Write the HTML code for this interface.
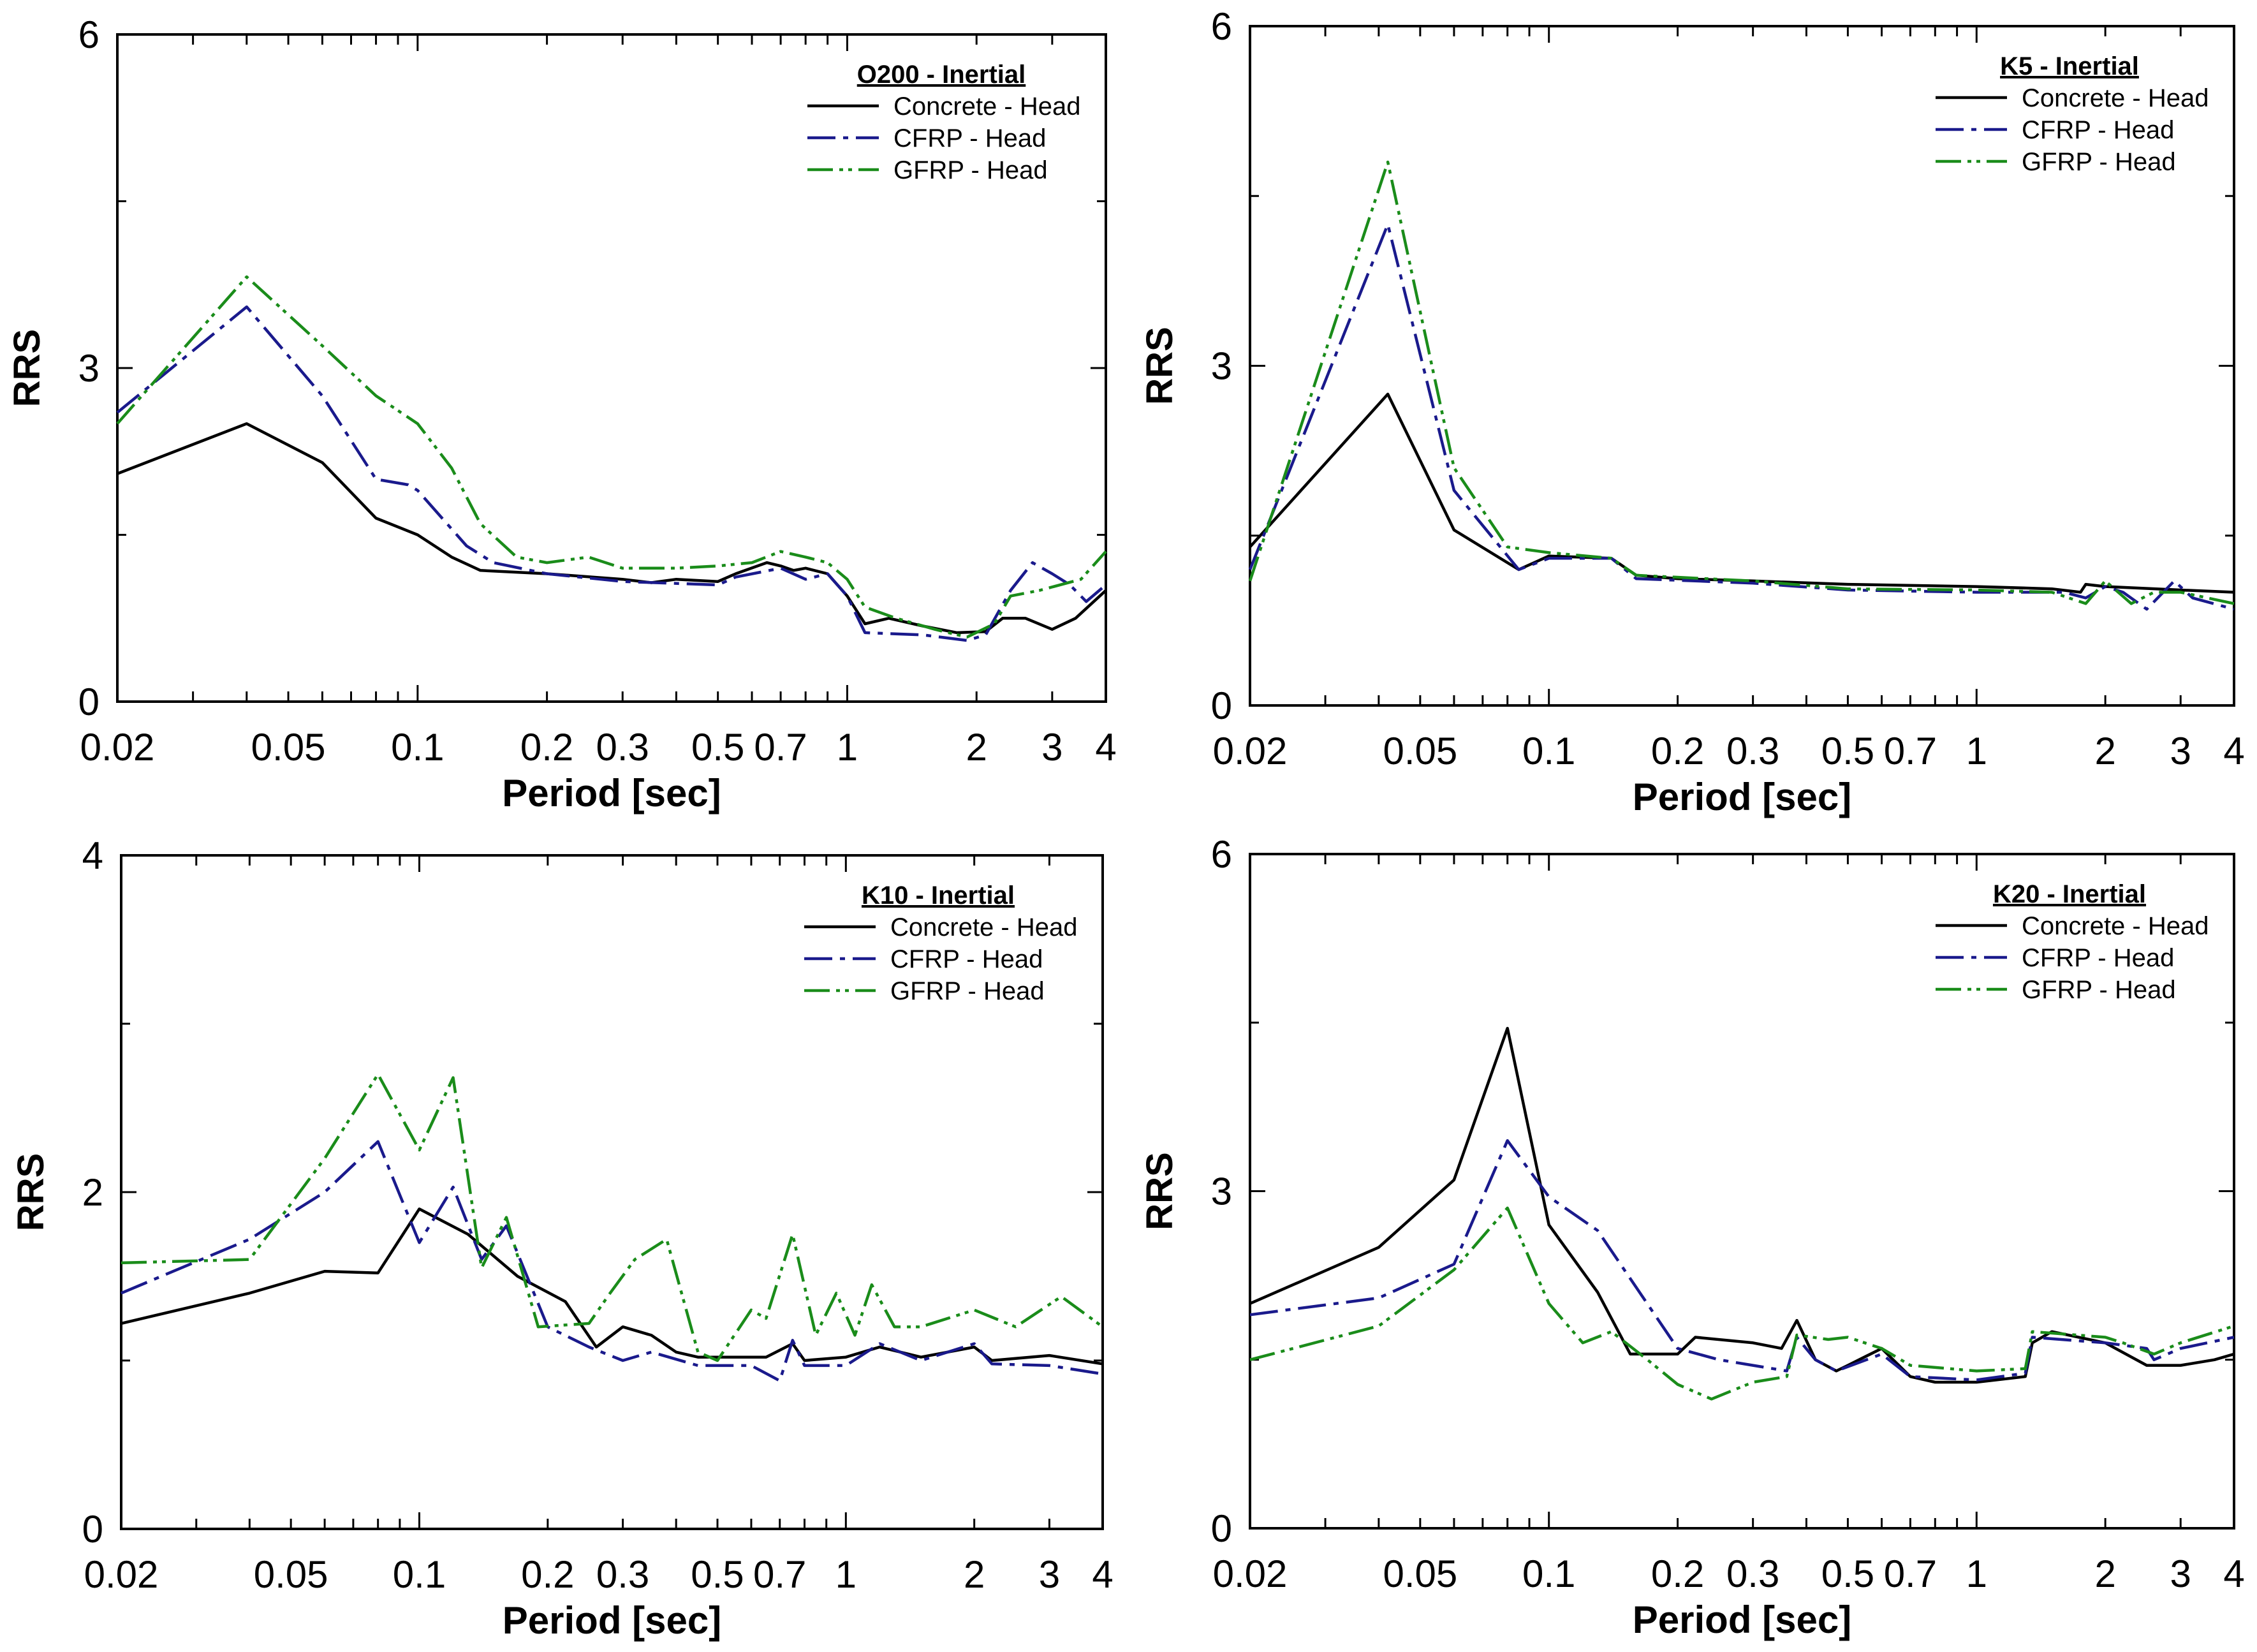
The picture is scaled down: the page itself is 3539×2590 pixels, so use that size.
<!DOCTYPE html>
<html><head><meta charset="utf-8"><style>
html,body{margin:0;padding:0;background:#fff}
svg{display:block}
text{font-family:"Liberation Sans",Arial,sans-serif}
</style></head><body>
<svg id="chart" width="3539" height="2590" viewBox="0 0 3539 2590" xmlns="http://www.w3.org/2000/svg"></svg>
<script>
// ---- data ----
const panelTitles = ["O200 - Inertial","K5 - Inertial","K10 - Inertial","K20 - Inertial"];
const panelYMax = [6,6,4,6];
const seriesNames = ["Concrete - Head","CFRP - Head","GFRP - Head"];
const xTickLabels = [0.02,0.05,0.1,0.2,0.3,0.5,0.7,1,2,3,4];

const o200Concrete = [[0.02,2.05],[0.04,2.5],[0.06,2.15],[0.08,1.65],[0.1,1.5],[0.12,1.3],[0.14,1.18],[0.2,1.15],[0.3,1.1],[0.35,1.07],[0.4,1.1],[0.5,1.08],[0.55,1.15],[0.65,1.25],[0.7,1.22],[0.75,1.18],[0.8,1.2],[0.9,1.15],[1.0,0.95],[1.1,0.7],[1.25,0.75],[1.5,0.68],[1.8,0.62],[2.1,0.63],[2.3,0.75],[2.6,0.75],[3.0,0.65],[3.4,0.75],[4,1.0]];
const o200Cfrp = [[0.02,2.6],[0.04,3.55],[0.06,2.75],[0.08,2.0],[0.095,1.95],[0.1,1.9],[0.13,1.4],[0.15,1.25],[0.2,1.15],[0.3,1.08],[0.5,1.05],[0.55,1.12],[0.7,1.2],[0.8,1.1],[0.9,1.15],[1.0,0.95],[1.1,0.62],[1.5,0.6],[1.9,0.55],[2.1,0.6],[2.4,1.0],[2.7,1.25],[3.0,1.15],[3.3,1.05],[3.6,0.9],[4,1.05]];
const o200Gfrp = [[0.02,2.5],[0.04,3.82],[0.06,3.2],[0.08,2.75],[0.1,2.5],[0.12,2.1],[0.14,1.6],[0.17,1.3],[0.2,1.25],[0.25,1.3],[0.3,1.2],[0.4,1.2],[0.5,1.22],[0.6,1.25],[0.7,1.35],[0.8,1.3],[0.9,1.25],[1.0,1.1],[1.1,0.85],[1.3,0.75],[1.6,0.65],[1.9,0.58],[2.2,0.7],[2.4,0.95],[2.8,1.0],[3.5,1.1],[4,1.35]];

const k5Concrete = [[0.02,1.4],[0.042,2.75],[0.06,1.55],[0.085,1.2],[0.1,1.32],[0.14,1.3],[0.16,1.15],[0.2,1.12],[0.3,1.1],[0.5,1.07],[1,1.05],[1.5,1.03],[1.75,1.0],[1.8,1.07],[2,1.05],[3,1.02],[4,1.0]];
const k5Cfrp = [[0.02,1.2],[0.042,4.25],[0.06,1.9],[0.085,1.2],[0.1,1.3],[0.14,1.3],[0.16,1.12],[0.3,1.08],[0.5,1.02],[1,1.0],[1.6,1.0],[1.8,0.95],[2.0,1.05],[2.2,1.0],[2.5,0.85],[2.9,1.1],[3.2,0.95],[4,0.85]];
const k5Gfrp = [[0.02,1.1],[0.042,4.8],[0.06,2.1],[0.08,1.4],[0.1,1.35],[0.14,1.3],[0.16,1.15],[0.3,1.1],[0.5,1.03],[1,1.02],[1.5,1.0],[1.8,0.9],[2.0,1.1],[2.3,0.9],[2.6,1.0],[3,1.0],[4,0.9]];

const k10Concrete = [[0.02,1.22],[0.04,1.4],[0.06,1.53],[0.08,1.52],[0.1,1.9],[0.13,1.75],[0.17,1.5],[0.22,1.35],[0.26,1.08],[0.3,1.2],[0.35,1.15],[0.4,1.05],[0.45,1.02],[0.5,1.02],[0.65,1.02],[0.75,1.1],[0.8,1.0],[1,1.02],[1.2,1.08],[1.5,1.02],[2,1.08],[2.2,1.0],[3,1.03],[4,0.98]];
const k10Cfrp = [[0.02,1.4],[0.04,1.72],[0.06,2.0],[0.08,2.3],[0.1,1.7],[0.12,2.03],[0.14,1.6],[0.16,1.8],[0.2,1.2],[0.25,1.08],[0.3,1.0],[0.35,1.05],[0.45,0.97],[0.6,0.97],[0.7,0.88],[0.75,1.12],[0.8,0.97],[1,0.97],[1.2,1.1],[1.5,1.0],[2,1.1],[2.2,0.98],[3,0.97],[4,0.92]];
const k10Gfrp = [[0.02,1.58],[0.04,1.6],[0.06,2.2],[0.08,2.7],[0.1,2.25],[0.12,2.68],[0.14,1.55],[0.16,1.85],[0.19,1.2],[0.25,1.22],[0.28,1.4],[0.32,1.6],[0.38,1.72],[0.45,1.05],[0.5,1.0],[0.6,1.3],[0.65,1.25],[0.75,1.75],[0.85,1.15],[0.95,1.4],[1.05,1.15],[1.15,1.45],[1.3,1.2],[1.5,1.2],[2,1.3],[2.5,1.2],[3.2,1.38],[4,1.2]];

const k20Concrete = [[0.02,2.0],[0.04,2.5],[0.06,3.1],[0.08,4.45],[0.1,2.7],[0.13,2.1],[0.155,1.55],[0.2,1.55],[0.22,1.7],[0.3,1.65],[0.35,1.6],[0.38,1.85],[0.42,1.5],[0.47,1.4],[0.5,1.45],[0.6,1.6],[0.7,1.35],[0.8,1.3],[1,1.3],[1.3,1.35],[1.35,1.65],[1.5,1.75],[2,1.65],[2.5,1.45],[3,1.45],[3.6,1.5],[4,1.55]];
const k20Cfrp = [[0.02,1.9],[0.04,2.05],[0.06,2.35],[0.08,3.45],[0.1,2.95],[0.13,2.65],[0.2,1.6],[0.25,1.5],[0.3,1.45],[0.36,1.4],[0.38,1.7],[0.42,1.5],[0.47,1.4],[0.6,1.55],[0.7,1.35],[1,1.32],[1.3,1.38],[1.35,1.7],[2,1.65],[2.5,1.6],[2.6,1.5],[3,1.6],[4,1.7]];
const k20Gfrp = [[0.02,1.5],[0.04,1.8],[0.06,2.3],[0.08,2.85],[0.1,2.0],[0.12,1.65],[0.14,1.75],[0.17,1.5],[0.2,1.28],[0.24,1.15],[0.3,1.3],[0.36,1.35],[0.38,1.72],[0.45,1.68],[0.5,1.7],[0.6,1.6],[0.7,1.45],[1,1.4],[1.3,1.42],[1.35,1.75],[2,1.7],[2.2,1.65],[2.6,1.55],[3,1.65],[4,1.8]];

const panelSeries = [[o200Concrete,o200Cfrp,o200Gfrp],[k5Concrete,k5Cfrp,k5Gfrp],[k10Concrete,k10Cfrp,k10Gfrp],[k20Concrete,k20Cfrp,k20Gfrp]];

// ---- layout ----
const boxes = [{l:184,r:1734,t:54,b:1100},{l:1960,r:3503,t:41,b:1106},{l:190,r:1729,t:1341,b:2397},{l:1960,r:3503,t:1339,b:2396}];
const colors = ["#000000","#1a1a8c","#1a8c1a"];
const dashes = ["", "44 12 8 12", "40 10 6 8 6 10"];
const svg = document.getElementById('chart');
const NS = "http://www.w3.org/2000/svg";
function mk(tag, attrs, parent){const e=document.createElementNS(NS,tag);for(const k in attrs)e.setAttribute(k,attrs[k]);(parent||svg).appendChild(e);return e;}

panelSeries.forEach((series, p) => {
  const B = boxes[p], ymax = panelYMax[p];
  const g = mk('g', {});
  
  
  const xs = v => B.l + (B.r - B.l) * Math.log(v / 0.02) / Math.log(4 / 0.02);
  const ys = v => B.b - (B.b - B.t) * v / ymax;
  const fr = mk('rect', {x:B.l, y:B.t, width:B.r-B.l, height:B.b-B.t, fill:'none', stroke:'#000', 'stroke-width':4}, g);
  
  
  [0.02,0.03,0.04,0.05,0.06,0.07,0.08,0.09,0.1,0.2,0.3,0.4,0.5,0.6,0.7,0.8,0.9,1,2,3,4].forEach(v => {
    const x = xs(v), len = (v===0.1||v===1)?26:16;
    mk('line',{x1:x,x2:x,y1:B.b,y2:B.b-len,stroke:'#000','stroke-width':3},g);
    mk('line',{x1:x,x2:x,y1:B.t,y2:B.t+len,stroke:'#000','stroke-width':3},g);
  });
  xTickLabels.forEach(v => {
    const t = mk('text',{x:xs(v), y:B.b+92, 'font-size':60, 'text-anchor':'middle'}, g);
    t.textContent = String(v);
    
    
  });
  [0, ymax/4, ymax/2, 3*ymax/4, ymax].forEach((v,i) => {
    const y = ys(v), len = (i%2===0)?24:14;
    mk('line',{x1:B.l,x2:B.l+len,y1:y,y2:y,stroke:'#000','stroke-width':3},g);
    mk('line',{x1:B.r,x2:B.r-len,y1:y,y2:y,stroke:'#000','stroke-width':3},g);
    if (i%2===0) {
      const t = mk('text',{x:B.l-28, y:y+21, 'font-size':60, 'text-anchor':'end'}, g);
      t.textContent = String(v);
      
      
    }
  });
  const xt = mk('text',{x:(B.l+B.r)/2, y:B.b+164, 'font-size':60, 'font-weight':'bold', 'text-anchor':'middle'}, g);
  xt.textContent = 'Period [sec]';
  
  
  const cy = (B.t+B.b)/2, ax = B.l-122;
  const yt = mk('text',{x:ax, y:cy, 'font-size':58, 'font-weight':'bold', 'text-anchor':'middle', transform:`rotate(-90 ${ax} ${cy})`}, g);
  yt.textContent = 'RRS';
  
  
  series.forEach((pts, s) => {
    const d = pts.map((pt,i)=>(i?'L':'M')+xs(pt[0]).toFixed(1)+' '+ys(pt[1]).toFixed(1)).join(' ');
    const path = mk('path',{d:d, fill:'none', stroke:colors[s], 'stroke-width':4.5, 'stroke-linejoin':'round'}, g);
    if (dashes[s]) path.setAttribute('stroke-dasharray', dashes[s]);
    
    
  });
  const lx = B.r - 468, ly = B.t + 62;
  const lt = mk('text',{x:lx+210, y:ly+14, 'font-size':40, 'font-weight':'bold', 'text-anchor':'middle', 'text-decoration':'underline'}, g);
  lt.textContent = panelTitles[p];
  
  
  seriesNames.forEach((n, s) => {
    const yy = ly + 50 + s*50;
    const ln = mk('line',{x1:lx, x2:lx+112, y1:yy, y2:yy, stroke:colors[s], 'stroke-width':4.5}, g);
    if (dashes[s]) ln.setAttribute('stroke-dasharray', dashes[s]);
    
    
    const tx = mk('text',{x:lx+135, y:yy+14, 'font-size':40}, g);
    tx.textContent = n;
    
    
  });
});
</script>
</body></html>
